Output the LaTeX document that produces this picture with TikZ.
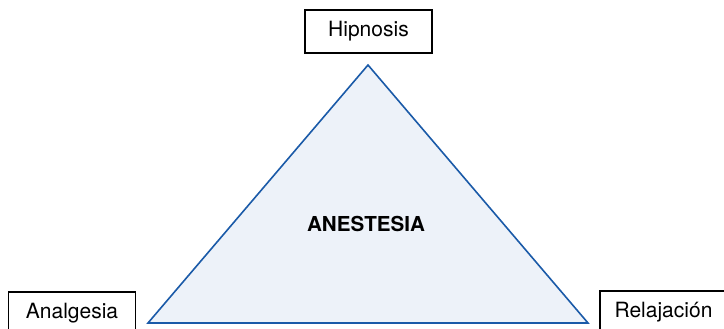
\documentclass[tikz,border=0pt]{standalone}
\usepackage{fontspec}
\setmainfont{TeX Gyre Heros}
\usepackage{tikz}
\usepackage{xcolor}
\definecolor{triblue}{HTML}{1A5AA8}
\definecolor{trifill}{HTML}{EDF2F9}

\begin{document}
\begin{tikzpicture}[x=1pt, y=-1pt,
        compbox/.style={draw, line width=1.3pt, minimum width=127pt, minimum height=43pt, inner sep=0pt, font=\fontsize{21}{24}\selectfont},
        coretext/.style={font=\fontsize{20.6}{24}\selectfont\bfseries}]
        \useasboundingbox (0,0) rectangle (724,329);
        \clip (0,0) rectangle (724,329);
        \coordinate (apex) at (368,65);
        \coordinate (baseL) at (148,323);
        \coordinate (baseR) at (588,323);
        \draw[triblue, line width=1.6pt, fill=trifill, line join=miter] (apex) -- (baseL) -- (baseR) -- cycle; % Triangle
        \node[coretext] (core) at (366,224) {ANESTESIA};
        \node[compbox] (hip) at (368.5,31.5) {Hipnosis};
        \node[compbox] (anal) at (72,313.5) {Analgesia};
        \node[compbox] (rel) at (663.5,312.5) {Relajación};
    \end{tikzpicture}
\end{document}
